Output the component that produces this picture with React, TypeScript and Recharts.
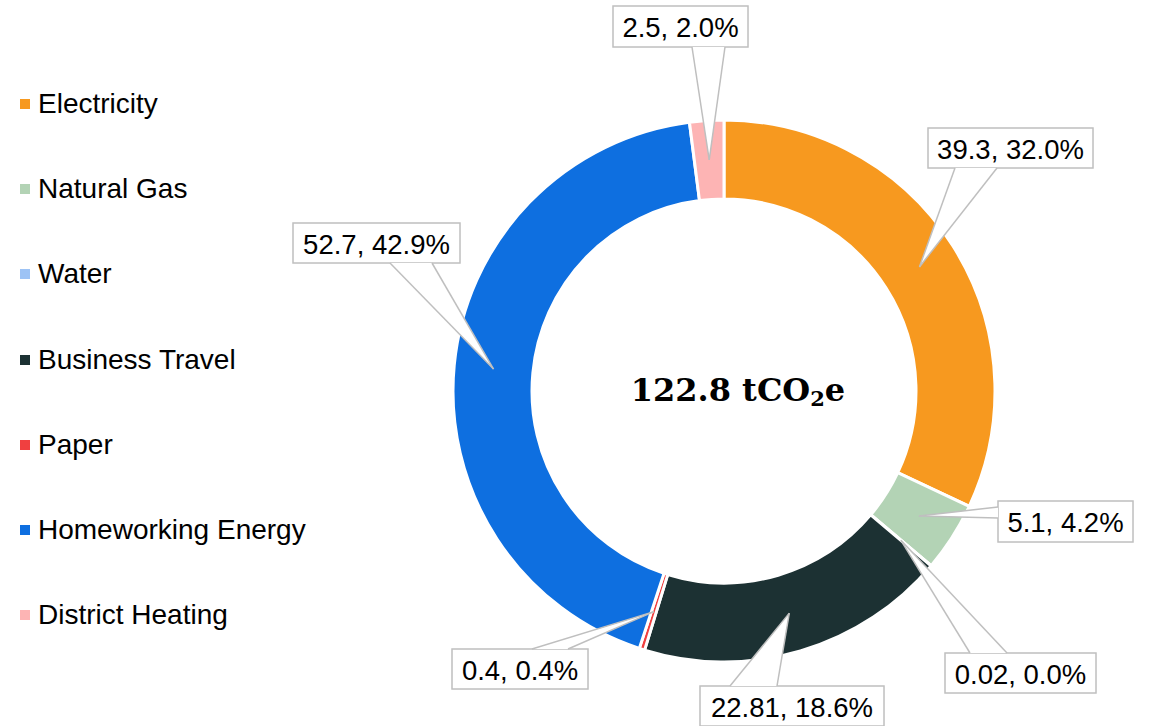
import { PieChart, Pie, Cell } from "recharts"

const categories = ["Electricity", "Natural Gas", "Water", "Business Travel", "Paper", "Homeworking Energy", "District Heating"]
const emissions = [39.3, 5.1, 0.02, 22.81, 0.4, 52.7, 2.5]
const shares = [32.0, 4.2, 0.0, 18.6, 0.4, 42.9, 2.0]
const totalLabel = "122.8"

const colors = ["#F7991F", "#B3D3B5", "#9DC3F5", "#1C3133", "#F04040", "#0E6FE0", "#FDB4B4"]

const data = categories.map((name, i) => ({ name, value: emissions[i], share: shares[i] }))

// callout boxes: [left, top, width, height], tail base: [x1, y1, x2, y2]
const callouts = [
  { box: [928, 128, 165, 40], base: [955, 168, 997, 168] },
  { box: [998, 501, 135, 41], base: [998, 507, 998, 518] },
  { box: [945, 653, 151, 40], base: [970, 653, 1007, 653] },
  { box: [700, 686, 184, 40], base: [730, 686, 777, 686] },
  { box: [452, 649, 136, 40], base: [532, 649, 568, 649] },
  { box: [293, 223, 167, 40], base: [390, 263, 432, 263] },
  { box: [613, 6, 135, 41], base: [692, 47, 725, 47] },
]

const RADIAN = Math.PI / 180

const renderCallout = (props: any) => {
  const { cx, cy, midAngle, innerRadius, outerRadius, index, value } = props
  const r = (innerRadius + outerRadius) / 2
  const tx = cx + r * Math.cos(-midAngle * RADIAN)
  const ty = cy + r * Math.sin(-midAngle * RADIAN)
  const c = callouts[index]
  const [bx, by, bw, bh] = c.box
  const [x1, y1, x2, y2] = c.base
  return (
    <g key={`callout-${index}`}>
      <rect x={bx} y={by} width={bw} height={bh} fill="#fff" stroke="#BFBFBF" strokeWidth={1.5} />
      <polygon points={`${x1},${y1} ${tx},${ty} ${x2},${y2}`} fill="#fff" stroke="none" />
      <line x1={x1} y1={y1} x2={tx} y2={ty} stroke="#BFBFBF" strokeWidth={1.5} />
      <line x1={x2} y1={y2} x2={tx} y2={ty} stroke="#BFBFBF" strokeWidth={1.5} />
      <text
        x={bx + bw / 2}
        y={by + bh / 2 + 1}
        textAnchor="middle"
        dominantBaseline="central"
        fontFamily="'Liberation Sans', Arial, sans-serif"
        fontSize={27.5}
        fill="#000"
      >
        {`${value}, ${shares[index].toFixed(1)}%`}
      </text>
    </g>
  )
}

export default function App() {
  return (
    <div style={{ width: 1156, height: 726, position: "absolute", left: 0, top: 0, background: "#fff" }}>
      <div
        style={{
          position: "absolute",
          left: 0,
          top: 61,
          fontFamily: "'Liberation Sans', Arial, sans-serif",
          fontSize: 28,
          color: "#000",
          zIndex: 1,
        }}
      >
        {categories.map((name, i) => (
          <div key={name} style={{ height: 85.3, display: "flex", alignItems: "center", paddingLeft: 20 }}>
            <span style={{ width: 10, height: 10, background: colors[i], marginRight: 8, display: "inline-block" }} />
            <span>{name}</span>
          </div>
        ))}
      </div>
      <PieChart width={1156} height={726} margin={{ top: 0, right: 0, bottom: 0, left: 0 }}>
        <Pie
          data={data}
          dataKey="value"
          nameKey="name"
          cx={724}
          cy={391}
          innerRadius={192}
          outerRadius={271}
          startAngle={90}
          endAngle={-270}
          stroke="#fff"
          strokeWidth={3}
          label={renderCallout}
          labelLine={false}
          isAnimationActive={false}
        >
          {data.map((d, i) => (
            <Cell key={d.name} fill={colors[i]} />
          ))}
        </Pie>
        <text
          x={738}
          y={390}
          textAnchor="middle"
          dominantBaseline="central"
          fontFamily="'DejaVu Serif', Georgia, serif"
          fontWeight="bold"
          fontSize={32}
          fill="#000"
        >
          {totalLabel} tCO
          <tspan fontSize={21} dy={8}>2</tspan>
          <tspan dy={-8}>e</tspan>
        </text>
      </PieChart>
    </div>
  )
}
